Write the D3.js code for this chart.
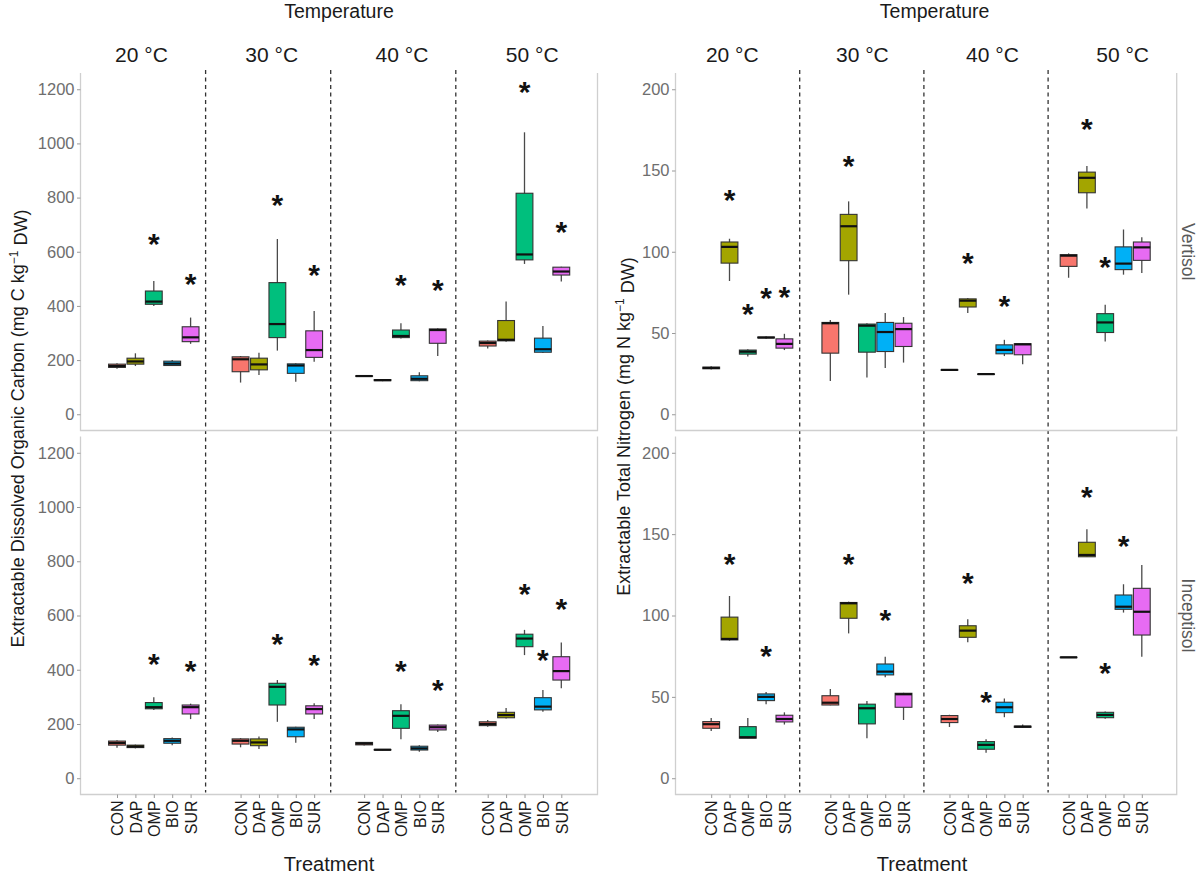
<!DOCTYPE html>
<html>
<head>
<meta charset="utf-8">
<script src="https://cdn.jsdelivr.net/npm/d3@7"></script>
<style>
  body { margin: 0; background: #fff; }
  text { font-family: "Liberation Sans", Arial, sans-serif; }
</style>
</head>
<body>
<svg id="chart" width="1200" height="877"></svg>
<script>
const temps = ["20 °C", "30 °C", "40 °C", "50 °C"];
const treatments = ["CON", "DAP", "OMP", "BIO", "SUR"];
const soils = ["Vertisol", "Inceptisol"];
const trtColors = ["#F8766D", "#A3A500", "#00BF7D", "#00B0F6", "#E76BF3"];

const docTicks = [0, 200, 400, 600, 800, 1000, 1200];
const tnTicks = [0, 50, 100, 150, 200];

// each box: [lower whisker, Q1, median, Q3, upper whisker], one row per temperature, CON..SUR
const docVertisol = [
  [[168, 173, 178, 185, 188], [178, 185, 195, 207, 225], [400, 406, 416, 455, 492], [178, 180, 187, 196, 200], [260, 268, 284, 323, 357]],
  [[117, 157, 203, 212, 215], [145, 164, 184, 207, 227], [235, 283, 333, 486, 647], [120, 151, 180, 186, 188], [194, 210, 237, 308, 381]],
  [[139, 140, 141, 142, 143], [122, 124, 126, 128, 130], [280, 283, 289, 311, 336], [122, 124, 131, 142, 155], [215, 262, 311, 315, 318]],
  [[243, 252, 263, 270, 272], [268, 271, 275, 346, 416], [555, 570, 590, 816, 1041], [226, 229, 240, 281, 326], [490, 514, 527, 543, 545]]
];
const docInceptisol = [
  [[112, 122, 130, 137, 140], [110, 113, 117, 122, 124], [252, 256, 262, 279, 299], [122, 129, 138, 146, 150], [218, 237, 262, 270, 275]],
  [[114, 126, 138, 145, 148], [108, 120, 132, 145, 154], [208, 270, 337, 350, 362], [131, 153, 180, 188, 190], [218, 237, 255, 267, 276]],
  [[121, 123, 128, 132, 134], [103, 104, 105, 106, 107], [144, 184, 230, 249, 273], [98, 104, 110, 118, 122], [170, 178, 188, 196, 198]],
  [[190, 194, 200, 208, 215], [220, 223, 233, 243, 259], [454, 485, 515, 531, 547], [245, 252, 264, 297, 325], [332, 362, 395, 448, 500]]
];
const tnVertisol = [
  [[27.5, 28, 28.5, 29, 29.5], [82, 93, 103, 106, 108], [35.5, 37, 38.5, 39.5, 40], [46.5, 47, 47.2, 47.5, 48], [39.5, 40.7, 43.3, 46.4, 49.5]],
  [[20.5, 37.6, 56, 56.5, 58], [73.6, 94.5, 115.7, 123, 131], [22.6, 38.2, 54.5, 55.5, 56], [28.4, 38.6, 50.6, 56.5, 62.3], [31.8, 41.7, 52.4, 56, 59.8]],
  [[27, 27.2, 27.3, 27.4, 27.6], [62.3, 66, 69.9, 71, 71.5], [24.4, 24.6, 24.7, 24.8, 25], [35.8, 37.2, 39.6, 42.7, 45.8], [30.8, 36.6, 43, 43.4, 43.6]],
  [[84, 91, 97.6, 98.2, 99], [126.6, 136.3, 145.5, 149, 152.7], [44.8, 50.3, 56.5, 61.9, 67.4], [85.9, 89, 92.7, 103, 113.7], [87, 94.7, 102.7, 106, 109]]
];
const tnInceptisol = [
  [[29, 30.7, 33.2, 34.8, 37], [84.5, 85, 85.6, 99, 112], [24.5, 24.6, 25.2, 31.7, 37], [45.5, 47.7, 50, 51.8, 53], [33, 34.6, 36.4, 38.7, 40.5]],
  [[44.8, 45, 46.4, 50.7, 54.8], [89, 98.3, 107.5, 108, 108.5], [24.6, 33.4, 43, 45.5, 47.5], [62, 63.5, 65.5, 70.2, 74.7], [35.8, 43.6, 51.6, 52.2, 52.5]],
  [[31.5, 34.2, 36.4, 38.5, 39], [83.5, 86.6, 90.7, 93.7, 97.7], [15.7, 17.8, 20.5, 22.5, 24], [37.5, 40.3, 43.6, 46.7, 49], [31, 31.3, 31.7, 32, 33]],
  [[74, 74.2, 74.3, 74.4, 74.5], [136, 136.1, 137.2, 145, 153], [36.5, 37.2, 38.9, 40.5, 41], [101.8, 103.8, 105.4, 112.6, 119.2], [74.7, 88, 102.3, 116.7, 131]]
];

// significance stars: [temperature, treatment, height]
const docVertisolStars = [
  ["20 °C", "OMP", 641], ["20 °C", "SUR", 496], ["30 °C", "OMP", 788], ["30 °C", "SUR", 530],
  ["40 °C", "OMP", 490], ["40 °C", "SUR", 474], ["50 °C", "OMP", 1204], ["50 °C", "SUR", 687]
];
const docInceptisolStars = [
  ["20 °C", "OMP", 436], ["20 °C", "SUR", 411], ["30 °C", "OMP", 510], ["30 °C", "SUR", 430],
  ["40 °C", "OMP", 411], ["40 °C", "SUR", 340], ["50 °C", "OMP", 694], ["50 °C", "BIO", 451], ["50 °C", "SUR", 639]
];
const tnVertisolStars = [
  ["20 °C", "DAP", 134], ["20 °C", "OMP", 64], ["20 °C", "BIO", 73.6], ["20 °C", "SUR", 74.6],
  ["30 °C", "DAP", 155.4], ["40 °C", "DAP", 95.2], ["40 °C", "BIO", 68.8], ["50 °C", "DAP", 177.8], ["50 °C", "OMP", 93.1]
];
const tnInceptisolStars = [
  ["20 °C", "DAP", 133.7], ["20 °C", "BIO", 77.2], ["30 °C", "DAP", 134], ["30 °C", "BIO", 99.3],
  ["40 °C", "DAP", 122.2], ["40 °C", "OMP", 49.1], ["50 °C", "DAP", 175.4], ["50 °C", "OMP", 67], ["50 °C", "BIO", 145.3]
];

const svg = d3.select("#chart");
const color = d3.scaleOrdinal().domain(treatments).range(trtColors);

// two rows of panels (Vertisol on top, Inceptisol below)
const rows = [
  { top: 73, bottom: 430.5 },
  { top: 436.5, bottom: 794.5 }
];

const panels = [
  {
    left: 80.5, right: 597.5, facetW: 125.1,
    firstCon: 117, lastCon: 487.7, trtSpan: 73.6,
    yDomain: [-60, 1260], ticks: docTicks,
    series: [docVertisol, docInceptisol],
    stars: [docVertisolStars, docInceptisolStars],
    stripX: [141.5, 532.2], tempX: 339, trtX: 329,
    yTitle: ["Extractable Dissolved Organic Carbon (mg C kg", " DW)"], yTitleX: 17.8, yTitleY: 428.5,
    rowStrips: false
  },
  {
    left: 675.5, right: 1176.7, facetW: 124.2,
    firstCon: 711.2, lastCon: 1068.6, trtSpan: 73.2,
    yDomain: [-10, 210], ticks: tnTicks,
    series: [tnVertisol, tnInceptisol],
    stars: [tnVertisolStars, tnInceptisolStars],
    stripX: [732.3, 1122.6], tempX: 934.6, trtX: 922,
    yTitle: ["Extractable Total Nitrogen (mg N kg", " DW)"], yTitleX: 624, yTitleY: 426.5,
    rowStrips: true
  }
];

const boxW = 16.8;

panels.forEach((p) => {
  const g = svg.append("g");

  // facet boundaries and box positions
  const facet = d3.scaleBand().domain(temps).range([p.left, p.left + 4 * p.facetW]);
  const conX = d3.scalePoint().domain(temps).range([p.firstCon, p.lastCon]);
  const trtScale = (temp) =>
    d3.scalePoint().domain(treatments).range([conX(temp), conX(temp) + p.trtSpan]);
  const stripScale = d3.scalePoint().domain(temps).range(p.stripX);

  // top titles
  g.append("text")
    .attr("x", p.tempX).attr("y", 18)
    .attr("text-anchor", "middle")
    .style("font-size", "19.5px").attr("fill", "#1a1a1a")
    .text("Temperature");

  g.selectAll(".strip")
    .data(temps)
    .join("text")
    .attr("class", "strip")
    .attr("x", (d) => stripScale(d)).attr("y", 61.5)
    .attr("text-anchor", "middle")
    .style("font-size", "21px").attr("fill", "#1a1a1a")
    .text((d) => d);

  // dashed separators between temperatures
  g.selectAll(".sep")
    .data(temps.slice(1))
    .join("line")
    .attr("x1", (d) => facet(d)).attr("x2", (d) => facet(d))
    .attr("y1", 70).attr("y2", rows[1].bottom - 2)
    .attr("stroke", "#333").attr("stroke-width", 1.3)
    .attr("stroke-dasharray", "4,3.5");

  rows.forEach((r, ri) => {
    const y = d3.scaleLinear().domain(p.yDomain).range([r.bottom, r.top]);
    const rg = g.append("g");

    // panel border (left, right, bottom)
    rg.append("path")
      .attr("d", `M${p.left},${r.top}V${r.bottom}H${p.right}V${r.top}`)
      .attr("fill", "none").attr("stroke", "#cfcfcf").attr("stroke-width", 1.3);

    const yAxis = rg.append("g")
      .attr("transform", `translate(${p.left},0)`)
      .call(d3.axisLeft(y).tickValues(p.ticks).tickFormat(d3.format("d")).tickSize(3.5).tickPadding(2.5));
    yAxis.select(".domain").remove();
    yAxis.selectAll(".tick line").attr("stroke", "#9a9a9a");
    yAxis.selectAll(".tick text")
      .style("font-size", "16.5px").style("font-family", "'Liberation Sans', Arial, sans-serif")
      .attr("fill", "#6e6e6e");

    const boxes = p.series[ri].flatMap((facetData, fi) =>
      facetData.map((s, ti) => ({
        temp: temps[fi], trt: treatments[ti],
        lo: s[0], q1: s[1], med: s[2], q3: s[3], hi: s[4]
      }))
    );
    const bx = (d) => trtScale(d.temp)(d.trt);

    const bg = rg.selectAll(".box")
      .data(boxes)
      .join("g")
      .attr("class", "box");

    bg.append("line")
      .attr("x1", bx).attr("x2", bx)
      .attr("y1", (d) => y(d.hi)).attr("y2", (d) => y(d.lo))
      .attr("stroke", "#4a4a4a").attr("stroke-width", 1.3);

    bg.append("rect")
      .attr("x", (d) => bx(d) - boxW / 2)
      .attr("y", (d) => y(d.q3))
      .attr("width", boxW)
      .attr("height", (d) => Math.max(y(d.q1) - y(d.q3), 0.5))
      .attr("fill", (d) => color(d.trt))
      .attr("stroke", "#333").attr("stroke-width", 1.1);

    bg.append("line")
      .attr("x1", (d) => bx(d) - boxW / 2).attr("x2", (d) => bx(d) + boxW / 2)
      .attr("y1", (d) => y(d.med)).attr("y2", (d) => y(d.med))
      .attr("stroke", "#111").attr("stroke-width", 2.2);

    rg.selectAll(".star")
      .data(p.stars[ri])
      .join("text")
      .attr("class", "star")
      .attr("x", (d) => trtScale(d[0])(d[1]))
      .attr("y", (d) => y(d[2]))
      .attr("dy", "0.46em")
      .attr("text-anchor", "middle")
      .style("font-size", "30px").style("font-weight", "bold")
      .attr("fill", "#111")
      .text("*");

    if (p.rowStrips) {
      rg.append("text")
        .attr("transform", `translate(${p.right + 11},${(r.top + r.bottom) / 2}) rotate(90)`)
        .attr("text-anchor", "middle").attr("dy", "0.35em")
        .style("font-size", "17.5px").attr("fill", "#5a5a5a")
        .text(soils[ri]);
    }

    // treatment axis on the bottom row only
    if (ri === 1) {
      temps.forEach((t) => {
        const xa = rg.append("g")
          .attr("transform", `translate(0,${r.bottom})`)
          .call(d3.axisBottom(trtScale(t)).tickSize(3.5).tickPadding(2.5));
        xa.select(".domain").remove();
        xa.selectAll(".tick line").attr("stroke", "#9a9a9a");
        xa.selectAll(".tick text")
          .attr("transform", "rotate(-90)")
          .attr("x", -6).attr("y", 0).attr("dy", "0.36em")
          .attr("text-anchor", "end")
          .style("font-size", "16px").style("font-family", "'Liberation Sans', Arial, sans-serif")
          .attr("fill", "#1a1a1a");
      });
    }
  });

  // axis titles
  const yt = g.append("text")
    .attr("transform", `translate(${p.yTitleX},${p.yTitleY}) rotate(-90)`)
    .attr("text-anchor", "middle").attr("dy", "0.35em")
    .style("font-size", "18px").attr("fill", "#1a1a1a");
  yt.append("tspan").text(p.yTitle[0]);
  yt.append("tspan").attr("dy", "-0.55em").style("font-size", "12px").text("−1");
  yt.append("tspan").attr("dy", "0.55em").text(p.yTitle[1]);

  g.append("text")
    .attr("x", p.trtX).attr("y", 871)
    .attr("text-anchor", "middle")
    .style("font-size", "20px").attr("fill", "#1a1a1a")
    .text("Treatment");
});
</script>
</body>
</html>
